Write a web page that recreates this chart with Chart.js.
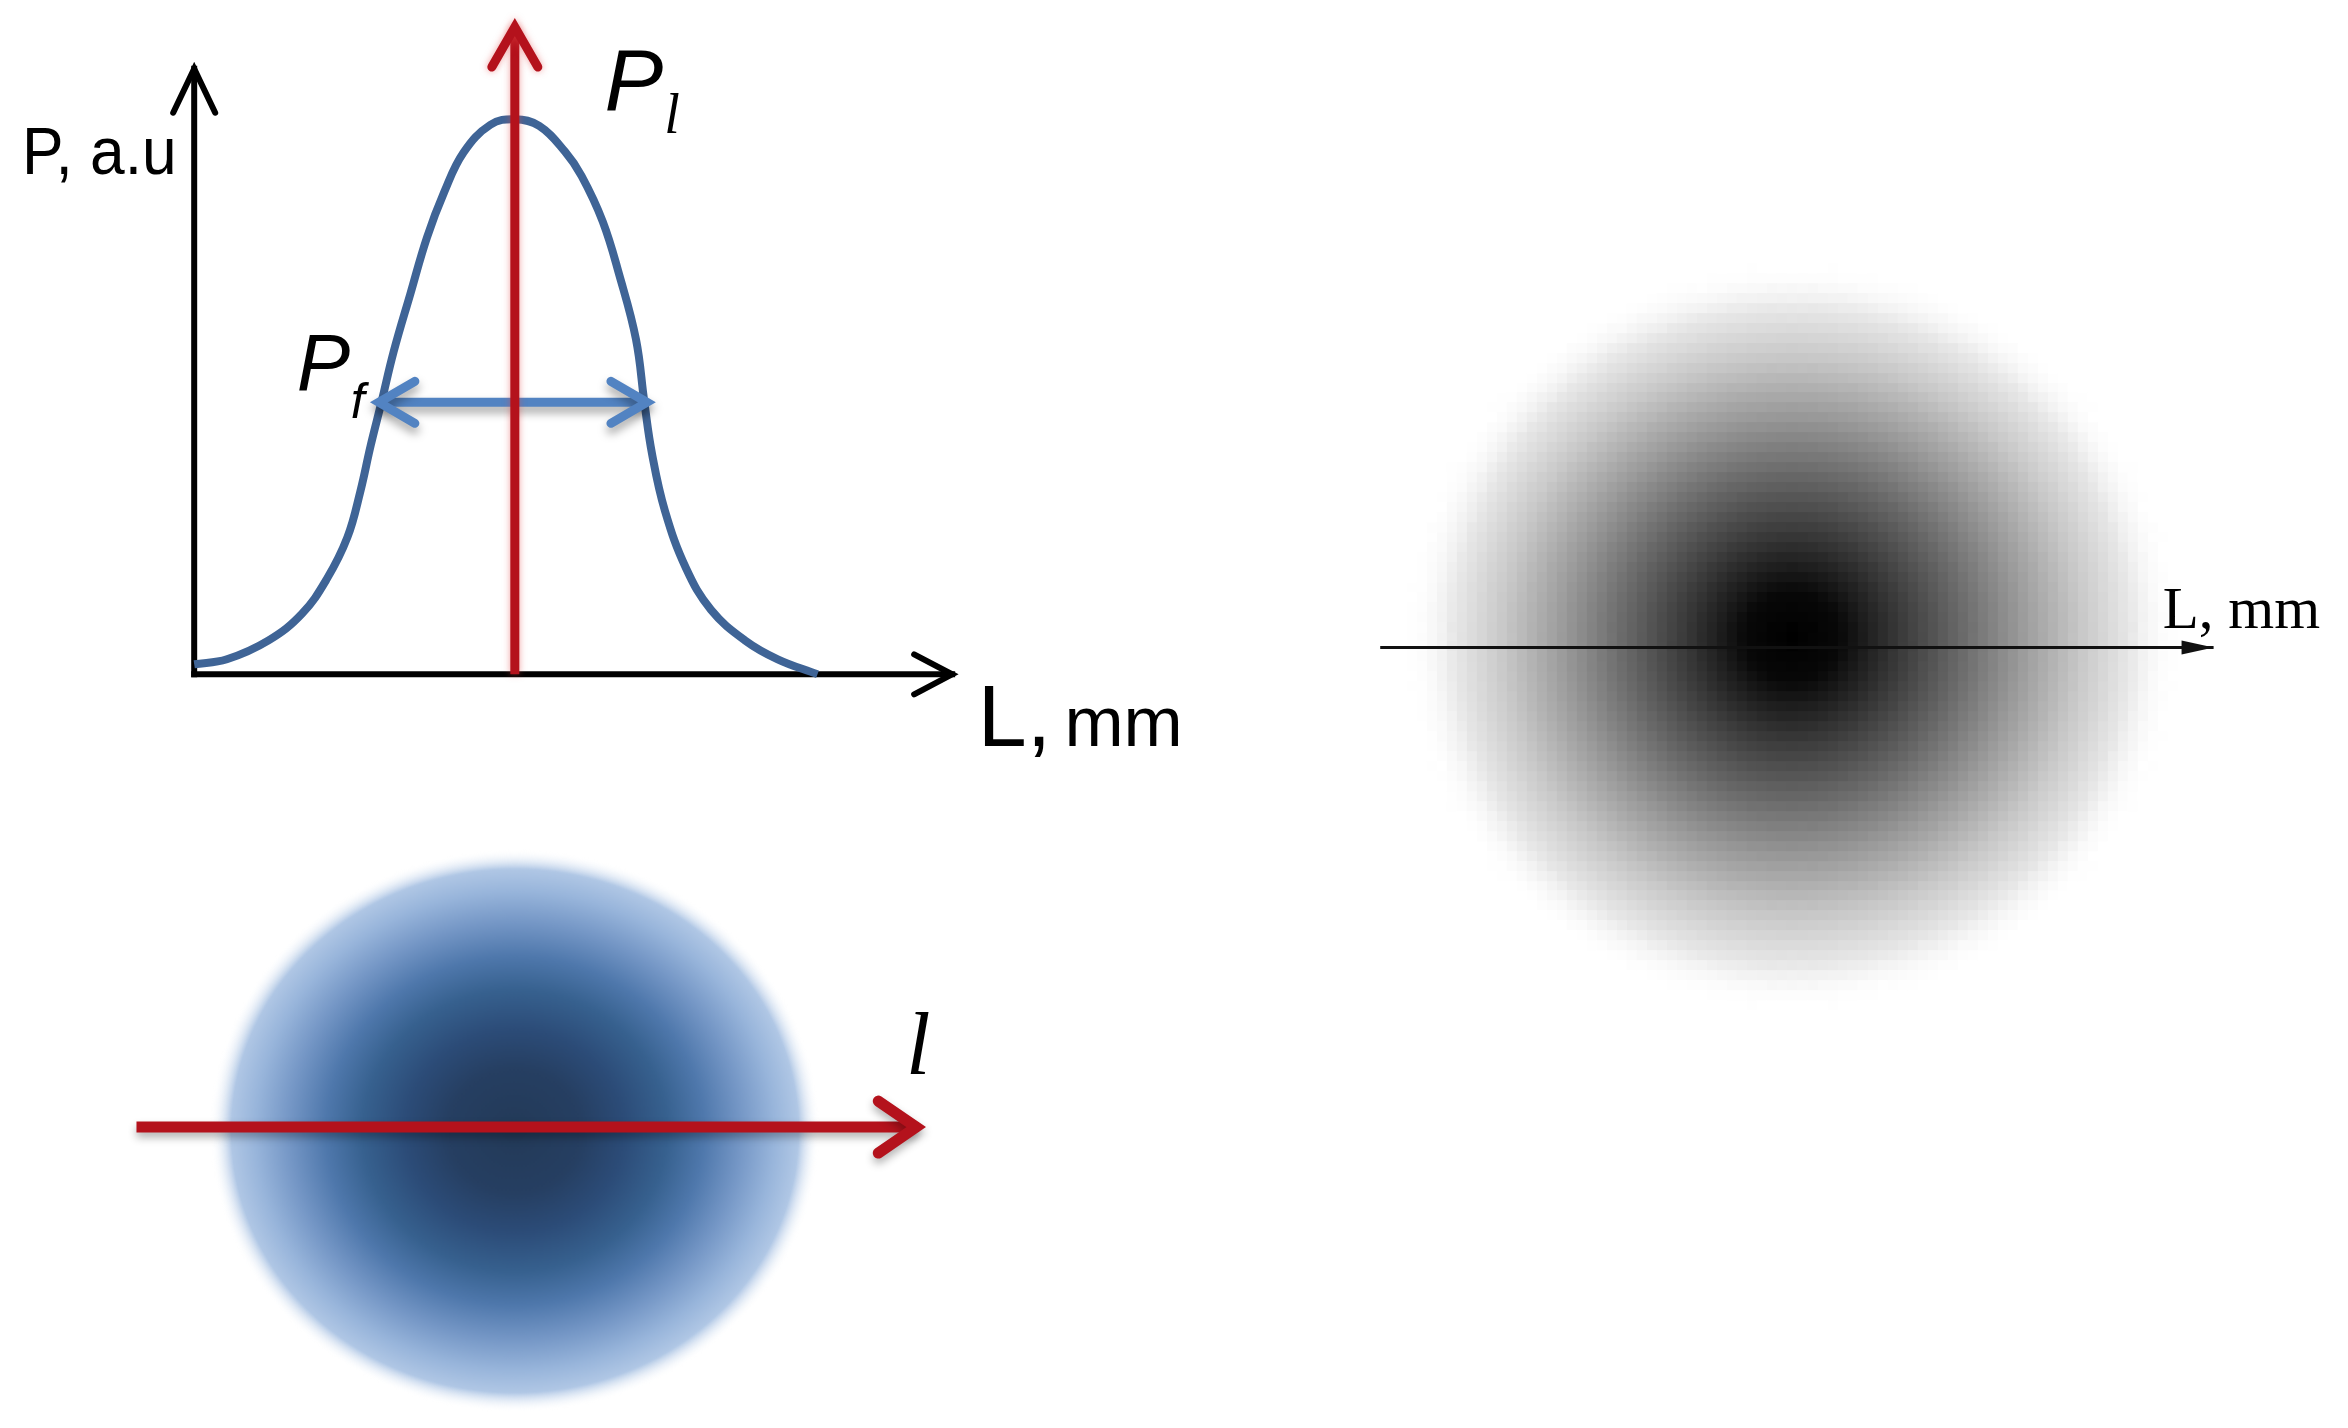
<!DOCTYPE html>
<html>
<head>
<meta charset="utf-8">
<title>Beam profile</title>
<script src="https://cdn.jsdelivr.net/npm/chart.js@4.4.1/dist/chart.umd.min.js"></script>
<style>
  html, body { margin: 0; padding: 0; background: #fff; }
  canvas { display: block; }
</style>
</head>
<body>
<canvas id="beamChart" width="2348" height="1428"></canvas>
<script>
// ---- values ----
// intensity profile across the spot: L (mm, arb.), P (a.u., peak = 1)
const profileL = [0, 0.51, 1.16, 1.68, 2.07, 2.39, 2.59, 2.75, 2.92, 3.11, 3.37, 3.63, 3.90, 4.20, 4.62,
                  5.00, 5.38, 5.78, 6.04, 6.37, 6.63, 6.89, 7.02, 7.14, 7.34, 7.67, 8.06, 8.59, 9.10, 9.72];
const profileP = [0.018, 0.027, 0.061, 0.109, 0.172, 0.247, 0.329, 0.411, 0.490, 0.581, 0.685, 0.787, 0.869, 0.940, 0.990,
                  1.000, 0.988, 0.942, 0.898, 0.816, 0.719, 0.603, 0.490, 0.397, 0.295, 0.191, 0.116, 0.061, 0.027, 0.000];

// axes of the profile plot
const axisL = [0, 11.82];
const axisP = [0, 1.091];

// red marker through the peak (P_l) and the width arrow (P_f)
const peakL = 5;
const peakArrowP = [0, 1.166];
const widthL = [2.88, 7.06];
const widthP = 0.49;

// blue spot with the scan line l
const spotCenter = [5, -0.06];
const spotRadii = [4.76, 4.40];
const scanLine = [-0.90, 11.26];

// grey camera image of the spot with its L axis
const imageCenter = [0, 0.3];
const imageRadii = [10.6, 10.3];
const imageAxis = [-11.34, 11.59];

// ---- layout ----
const W = 2348, H = 1428;

// value 0 sits at pixel px0, k pixels per unit
function hAxis(px0, k) {
    return { type: 'linear', axis: 'x', display: false, bounds: 'data', min: -px0 / k, max: (W - px0) / k };
}
function vAxis(py0, k) {
    return { type: 'linear', axis: 'y', display: false, bounds: 'data', min: -(H - py0) / k, max: py0 / k };
}

function pxLen(scale, v) {
    if (!scale) return NaN;
    return Math.abs(scale.getPixelForValue(v) - scale.getPixelForValue(0));
}

// soft elliptical spot, sized from the scales; blockPx > 0 gives the pixelated camera look
function spotStyle(stops, blockPx) {
    return function(ctx) {
        const raw = ctx.raw;
        if (!raw || raw.rx === undefined) return 'circle';
        const ds = ctx.dataset;
        const rx = pxLen(ctx.chart.scales[ds.xAxisID], raw.rx);
        const ry = pxLen(ctx.chart.scales[ds.yAxisID], raw.ry);
        if (!isFinite(rx) || !isFinite(ry) || rx < 2 || ry < 2) return 'circle';
        const w = Math.round(rx * 2), h = Math.round(ry * 2);
        const cols = blockPx ? Math.round(w / blockPx) : w;
        const rows = blockPx ? Math.round(h / blockPx) : h;

        const small = document.createElement('canvas');
        small.width = cols;
        small.height = rows;
        const sc = small.getContext('2d');
        sc.save();
        sc.scale(1, rows / cols);
        const g = sc.createRadialGradient(cols / 2, cols / 2, 0, cols / 2, cols / 2, cols / 2);
        stops.forEach(s => g.addColorStop(s[0], s[1]));
        sc.fillStyle = g;
        sc.fillRect(0, 0, cols, cols);
        sc.restore();
        if (!blockPx) return small;

        const big = document.createElement('canvas');
        big.width = w;
        big.height = h;
        const bc = big.getContext('2d');
        bc.imageSmoothingEnabled = false;
        bc.drawImage(small, 0, 0, w, h);
        return big;
    };
}

// arrow heads + soft shadows for line datasets
const arrowHeads = {
    id: 'arrowHeads',
    beforeDatasetDraw(chart, args) {
        const ds = chart.data.datasets[args.index];
        if (!ds.shadow) return;
        const ctx = chart.ctx;
        ctx.save();
        ctx.shadowColor = ds.shadow.color;
        ctx.shadowBlur = ds.shadow.blur;
        ctx.shadowOffsetX = 0;
        ctx.shadowOffsetY = ds.shadow.dy || 0;
    },
    afterDatasetDraw(chart, args) {
        const ds = chart.data.datasets[args.index];
        const ctx = chart.ctx;
        const pts = args.meta.data;
        (ds.heads || []).forEach(end => {
            const a = end === 'end' ? pts[pts.length - 2] : pts[1];
            const b = end === 'end' ? pts[pts.length - 1] : pts[0];
            const dx = b.x - a.x, dy = b.y - a.y;
            const d = Math.hypot(dx, dy);
            const ux = dx / d, uy = dy / d;
            const bx = b.x - ux * ds.headLength, by = b.y - uy * ds.headLength;
            const hw = ds.headWidth;
            ctx.beginPath();
            ctx.moveTo(bx - uy * hw, by + ux * hw);
            ctx.lineTo(b.x, b.y);
            ctx.lineTo(bx + uy * hw, by - ux * hw);
            if (ds.headFill) {
                ctx.closePath();
                ctx.fillStyle = ds.borderColor;
                ctx.fill();
            } else {
                ctx.strokeStyle = ds.borderColor;
                ctx.lineWidth = ds.borderWidth;
                ctx.lineJoin = 'miter';
                ctx.lineCap = 'round';
                ctx.stroke();
            }
        });
        if (ds.shadow) ctx.restore();
    }
};

// text labels placed in data units of the panel scales
const sans = '"Liberation Sans", Arial, sans-serif';
const serif = '"Liberation Serif", "Times New Roman", serif';
const labels = [
    { text: 'P, a.u', font: '67px ' + sans, sx: 0.93, xAxis: 'xA', yAxis: 'yA', x: -2.686, y: 0.902 },
    { text: 'L,', font: '88px ' + sans, xAxis: 'xA', yAxis: 'yA', x: 12.22, y: -0.129 },
    { text: 'mm', font: '71px ' + sans, xAxis: 'xA', yAxis: 'yA', x: 13.57, y: -0.129 },
    { text: 'P', font: 'italic 88px ' + sans, xAxis: 'xA', yAxis: 'yA', x: 6.40, y: 1.016 },
    { text: 'l', font: 'italic 56px ' + serif, xAxis: 'xA', yAxis: 'yA', x: 7.33, y: 0.976 },
    { text: 'P', font: 'italic 80px ' + sans, xAxis: 'xA', yAxis: 'yA', x: 1.60, y: 0.513 },
    { text: 'f', font: 'italic 50px ' + sans, xAxis: 'xA', yAxis: 'yA', x: 2.44, y: 0.462 },
    { text: 'l', font: 'italic 88px ' + serif, xAxis: 'xA', yAxis: 'yB', x: 11.10, y: 0.83 },
    { text: 'L, mm', font: '59px ' + serif, xAxis: 'xC', yAxis: 'yC', x: 10.19, y: 0.548 }
];

const textLabels = {
    id: 'textLabels',
    afterDatasetsDraw(chart) {
        const ctx = chart.ctx;
        labels.forEach(t => {
            ctx.save();
            ctx.font = t.font;
            ctx.fillStyle = '#000';
            ctx.textAlign = 'left';
            ctx.textBaseline = 'alphabetic';
            ctx.translate(chart.scales[t.xAxis].getPixelForValue(t.x),
                          chart.scales[t.yAxis].getPixelForValue(t.y));
            ctx.scale(t.sx || 1, 1);
            ctx.fillText(t.text, 0, 0);
            ctx.restore();
        });
    }
};

const pts = (xs, ys) => xs.map((x, i) => ({ x, y: ys[i] }));
const RED = '#b4121c';

const datasets = [
    {   // peak marker
        data: pts([peakL, peakL], peakArrowP),
        xAxisID: 'xA', yAxisID: 'yA',
        borderColor: RED, borderWidth: 9,
        heads: ['end'], headLength: 40, headWidth: 23,
        shadow: { color: 'rgba(225,70,70,0.5)', blur: 7 },
        order: 0
    },
    {   // width arrow P_f
        data: pts(widthL, [widthP, widthP]),
        xAxisID: 'xA', yAxisID: 'yA',
        borderColor: '#5283c2', borderWidth: 9,
        heads: ['start', 'end'], headLength: 36, headWidth: 21,
        shadow: { color: 'rgba(0,0,0,0.35)', blur: 10, dy: 6 },
        order: 1
    },
    {   // profile curve
        data: pts(profileL, profileP),
        xAxisID: 'xA', yAxisID: 'yA',
        borderColor: '#3f6496', borderWidth: 8,
        tension: 0.4,
        order: 2
    },
    {   // P axis
        data: pts([0, 0], axisP),
        xAxisID: 'xA', yAxisID: 'yA',
        borderColor: '#000', borderWidth: 6, borderCapStyle: 'square',
        heads: ['end'], headLength: 44, headWidth: 21,
        order: 3
    },
    {   // L axis
        data: pts(axisL, [0, 0]),
        xAxisID: 'xA', yAxisID: 'yA',
        borderColor: '#000', borderWidth: 6, borderCapStyle: 'square',
        heads: ['end'], headLength: 38, headWidth: 20,
        order: 3
    },
    {   // scan line l
        data: pts(scanLine, [0, 0]),
        xAxisID: 'xA', yAxisID: 'yB',
        borderColor: RED, borderWidth: 11,
        heads: ['end'], headLength: 38, headWidth: 26,
        shadow: { color: 'rgba(0,0,0,0.3)', blur: 8, dy: 5 },
        order: 0
    },
    {   // blue spot
        data: [{ x: spotCenter[0], y: spotCenter[1], rx: spotRadii[0], ry: spotRadii[1] }],
        xAxisID: 'xA', yAxisID: 'yB',
        showLine: false, pointRadius: 1,
        pointStyle: spotStyle([
            [0, '#233a58'], [0.22, '#263f62'], [0.36, '#2c4c78'], [0.5, '#37618f'],
            [0.62, '#4f78ac'], [0.74, '#7597c6'], [0.85, '#98b5db'], [0.93, '#b0c7e5'],
            [1, 'rgba(255,255,255,0)']
        ], 0),
        order: 5
    },
    {   // L axis of the camera image
        data: pts(imageAxis, [0, 0]),
        xAxisID: 'xC', yAxisID: 'yC',
        borderColor: '#111', borderWidth: 3,
        heads: ['end'], headLength: 32, headWidth: 7, headFill: true,
        order: 0
    },
    {   // grey camera image
        data: [{ x: imageCenter[0], y: imageCenter[1], rx: imageRadii[0], ry: imageRadii[1] }],
        xAxisID: 'xC', yAxisID: 'yC',
        showLine: false, pointRadius: 1,
        pointStyle: spotStyle([
            [0, '#000000'], [0.12, '#080808'], [0.28, '#3a3a3a'], [0.44, '#6a6a6a'],
            [0.6, '#9c9c9c'], [0.75, '#c8c8c8'], [0.88, '#e8e8e8'], [1, 'rgba(255,255,255,0)']
        ], 10),
        order: 5
    }
];

datasets.forEach(ds => {
    ds.clip = false;
    if (ds.pointRadius === undefined) ds.pointRadius = 0;
    ds.fill = false;
});

new Chart(document.getElementById('beamChart'), {
    type: 'line',
    data: { datasets },
    options: {
        responsive: false,
        devicePixelRatio: 1,
        animation: false,
        events: [],
        layout: { padding: 0 },
        scales: {
            xA: hAxis(190, 64.4),
            yA: vAxis(674, 559),
            yB: vAxis(1130, 64.4),
            xC: hAxis(1795, 36.5),
            yC: vAxis(647, 36.5)
        },
        plugins: {
            legend: { display: false },
            tooltip: { enabled: false }
        }
    },
    plugins: [arrowHeads, textLabels]
});
</script>
</body>
</html>
